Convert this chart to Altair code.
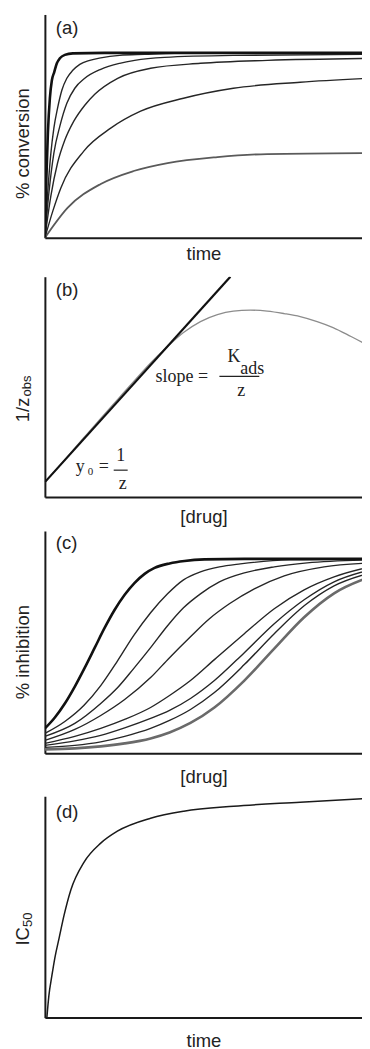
import altair as alt
import pandas as pd

SANS = "Liberation Sans"
SERIF = "Liberation Serif"
INK = "#1a1a1a"
XMAX = 318

# ---------------- panel (a): % conversion vs time ----------------
a1_x = [0, 1.5, 3, 5, 7, 9.3, 12, 15, 20, 28, 60, 326]
a1_y = [0, 60, 105, 140, 158, 166, 175, 180, 183.5, 185, 185.5, 185.5]
a2_x = [0, 3, 6, 9, 12.7, 17, 22, 28, 35, 45, 56, 75, 100, 130, 326]
a2_y = [0, 48, 85, 110, 130, 148, 160, 168, 174, 178, 180.5, 183, 184, 185, 185]
a3_x = [0, 4, 9, 15, 22, 30, 40, 56, 75, 90, 120, 190, 326]
a3_y = [0, 45, 85, 112, 135, 150, 160, 169, 175, 178, 181, 183, 184]
a4_x = [0, 6, 12.7, 20, 29, 40, 50, 73, 106, 156, 223, 326]
a4_y = [0, 42, 75, 98, 117, 133, 144, 160, 170, 175, 178, 180]
a5_x = [0, 8, 16, 39, 66, 96, 139, 189, 256, 326]
a5_y = [0, 27, 50, 87, 110, 127, 140, 150, 156, 160]
a6_x = [0, 22.7, 56, 89, 123, 173, 223, 326]
a6_y = [0, 30, 54, 67, 75, 81, 84, 85]

# ---------------- panel (b): 1/z_obs vs [drug] ----------------
b_line_x = [0, 186]
b_line_y = [15, 221]
b_curve_x = [0, 20, 39, 56, 73, 90, 106, 123, 139, 156, 173, 189, 206, 223, 240, 256, 273, 289, 307, 326]
b_curve_y = [15, 37.5, 59.5, 79, 98, 117, 134.5, 151, 165, 176, 183, 186.5, 187.5, 186.5, 184, 181, 176, 170, 161, 151]

# ---------------- panel (c): % inhibition vs [drug] ----------------
c1_x = [0, 10, 20, 30, 40, 50, 60, 70, 80, 90, 100, 110, 125, 140, 160, 200, 326]
c1_y = [25, 36, 50, 67, 86, 106, 126, 144, 159, 171, 180, 186, 190.5, 193, 194.5, 195, 195]
c2_x = [0, 20, 39, 56, 73, 89, 106, 123, 139, 156, 175, 196, 246, 326]
c2_y = [20, 32, 48, 68, 93, 118, 141, 160, 174, 182, 187, 190, 194, 195]
c3_x = [0, 30, 56, 73, 89, 106, 123, 139, 156, 175, 200, 230, 263, 326]
c3_y = [17, 30, 50, 66, 85, 106, 128, 146, 160, 172, 181, 187, 191, 194]
c4_x = [0, 30, 56, 80, 106, 125, 146, 165, 185, 210, 240, 280, 326]
c4_y = [13, 24, 38, 54, 76, 96, 117, 135, 150, 165, 178, 187, 191]
c_right_x = [0, 30, 56, 80, 106, 125, 146, 170, 200, 230, 260, 290, 326]
c5_y = [10, 17, 25, 34, 46, 58, 73, 94, 120, 145, 164, 177, 187]
c6_y = [8, 12.5, 18, 25.5, 35, 43, 55, 73, 101, 130, 154, 172, 184]
c7_y = [6, 8, 11.5, 17, 25, 33, 44, 61, 89, 120, 148, 168, 181]
c8_y = [4, 5, 7, 10, 15, 21, 30.5, 46, 73, 105, 136.5, 160.5, 177]

# ---------------- panel (d): IC50 vs time ----------------
d_x = [2, 4, 7, 10, 14.3, 19.3, 26, 39.3, 56, 72.7, 106, 139.3, 189.3, 256, 326]
d_y = [0, 22, 42, 60, 80, 103, 128, 156, 175, 187, 200, 207, 212, 216, 220]


def frame(series):
    rows = []
    for name, xs, ys in series:
        for i, (x, y) in enumerate(zip(xs, ys)):
            rows.append({"curve": name, "x": x, "y": y, "i": i})
    return pd.DataFrame(rows)


def axis(title, pad, **kw):
    return alt.Axis(title=title, titlePadding=pad, ticks=False, labels=False, grid=False,
                    domainColor=INK, domainWidth=2, titleFont=SANS, titleFontSize=18.5,
                    titleFontWeight="normal", titleColor="#222", **kw)


def panel(groups, ymax, height, xtitle, xpad, ytitle, ytitle_y, label, label_y, extra=(), spacer=0):
    xsc = alt.Scale(domain=[0, XMAX], nice=False, zero=False)
    ysc = alt.Scale(domain=[0, ymax], nice=False, zero=False)
    xax = axis(xtitle, xpad)
    yax = axis(ytitle, 12, titleY=ytitle_y, titleAlign="center")
    layers = []
    for df, color, width in groups:
        layers.append(
            alt.Chart(df).mark_line(color=color, strokeWidth=width, interpolate="monotone", clip=True)
            .encode(x=alt.X("x:Q", scale=xsc, axis=xax),
                    y=alt.Y("y:Q", scale=ysc, axis=yax),
                    detail="curve:N", order="i:Q")
        )
    lab = alt.Chart(pd.DataFrame({"t": [label]})).mark_text(
        font=SANS, fontSize=18.5, color="#222", align="left", baseline="alphabetic"
    ).encode(x=alt.value(11), y=alt.value(label_y), text="t:N")
    layers.append(lab)
    layers.extend(extra)
    if spacer:
        layers.append(
            alt.Chart(pd.DataFrame({"t": [0]})).mark_rule(opacity=0)
            .encode(x=alt.value(0), y=alt.value(-spacer), y2=alt.value(0))
        )
    return alt.layer(*layers).properties(width=XMAX, height=height)


# panel (a)
pa = panel(
    [
        (frame([("a2", a2_x, a2_y), ("a3", a3_x, a3_y), ("a4", a4_x, a4_y), ("a5", a5_x, a5_y)]), "#262626", 1.4),
        (frame([("a6", a6_x, a6_y)]), "#5a5a5a", 1.8),
        (frame([("a1", a1_x, a1_y)]), "#111111", 2.6),
    ],
    224, 224, "time", 7, "% conversion", 129, "(a)", 20,
)

# panel (b) annotations
b_txt = pd.DataFrame({
    "x": [111, 183, 196, 197, 31, 54, 76, 78],
    "y": [115, 135, 123, 101, 25, 25, 36, 8],
    "t": ["slope =", "K", "ads", "z", "y", "=", "1", "z"],
    "a": ["left", "left", "left", "center", "left", "left", "center", "center"],
})
b_sub = pd.DataFrame({"x": [43], "y": [22], "t": ["0"]})
b_bars = pd.DataFrame({"x": [175, 69], "x2": [215, 83], "y": [121, 27]})

bx = alt.Scale(domain=[0, XMAX], nice=False, zero=False)
by = alt.Scale(domain=[0, 221], nice=False, zero=False)
b_extra = []
for al in ["left", "center"]:
    b_extra.append(
        alt.Chart(b_txt[b_txt["a"] == al]).mark_text(font=SERIF, fontSize=18, color="#222", align=al,
                                                      baseline="alphabetic")
        .encode(x=alt.X("x:Q", scale=bx), y=alt.Y("y:Q", scale=by), text="t:N")
    )
b_extra.append(
    alt.Chart(b_sub).mark_text(font=SERIF, fontSize=11, color="#222", align="left", baseline="alphabetic")
    .encode(x=alt.X("x:Q", scale=bx), y=alt.Y("y:Q", scale=by), text="t:N")
)
b_extra.append(
    alt.Chart(b_bars).mark_rule(color="#222", strokeWidth=1.2)
    .encode(x=alt.X("x:Q", scale=bx), x2="x2:Q", y=alt.Y("y:Q", scale=by))
)
b_extra.append(
    alt.Chart(pd.DataFrame({"t": ["obs"]})).mark_text(font=SANS, fontSize=13, color="#222", align="left",
                                                      baseline="alphabetic", angle=270)
    .encode(x=alt.value(-14), y=alt.value(120), text="t:N")
)

pb = panel(
    [
        (frame([("curve", b_curve_x, b_curve_y)]), "#8c8c8c", 1.3),
        (frame([("line", b_line_x, b_line_y)]), "#111111", 2.2),
    ],
    221, 221, "[drug]", 10, "1/z", 133, "(b)", 19, extra=b_extra, spacer=13,
)

# panel (c)
pc = panel(
    [
        (frame([("c2", c2_x, c2_y), ("c3", c3_x, c3_y), ("c4", c4_x, c4_y),
                ("c5", c_right_x, c5_y), ("c6", c_right_x, c6_y), ("c7", c_right_x, c7_y)]), "#262626", 1.4),
        (frame([("c8", c_right_x, c8_y)]), "#6a6a6a", 2.6),
        (frame([("c1", c1_x, c1_y)]), "#111111", 2.6),
    ],
    223, 223, "[drug]", 14, "% inhibition", 121, "(c)", 18, spacer=5,
)

# panel (d)
d_extra = [
    alt.Chart(pd.DataFrame({"t": ["50"]})).mark_text(font=SANS, fontSize=13, color="#222", align="left",
                                                     baseline="alphabetic", angle=270)
    .encode(x=alt.value(-13), y=alt.value(131), text="t:N")
]
pd_ = panel(
    [(frame([("d", d_x, d_y)]), "#1a1a1a", 1.5)],
    222, 222, "time", 14, "IC", 140, "(d)", 22, extra=d_extra, spacer=10,
)

chart = alt.vconcat(pa, pb, pc, pd_, spacing=0).properties(
    padding={"left": 6, "top": 5, "right": 0, "bottom": 0}
).configure_view(stroke=None)

chart.save("out.html", embed_options={"renderer": "svg", "actions": False})
